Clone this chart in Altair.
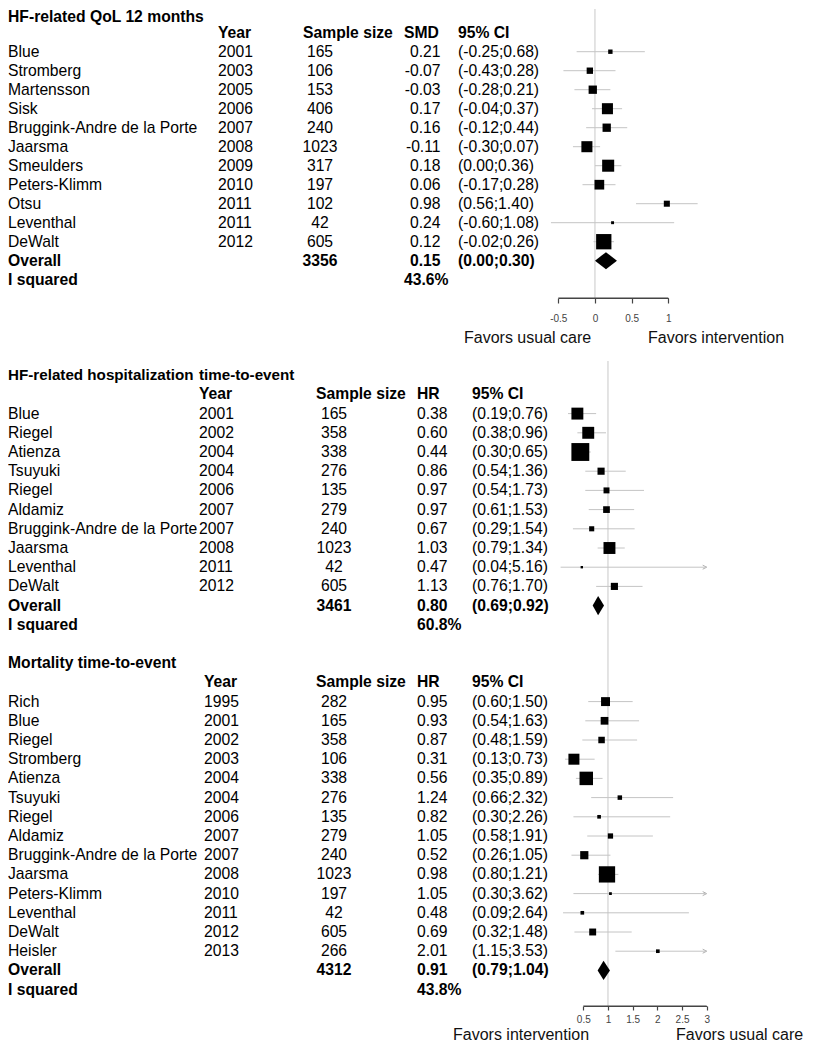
import altair as alt
import pandas as pd

FONT = "Liberation Sans"
FS = 15.7

# ---------------- data ----------------
qol_title = "HF-related QoL 12 months"
qol_est_label = "SMD"
qol_names = ["Blue", "Stromberg", "Martensson", "Sisk", "Bruggink-Andre de la Porte",
             "Jaarsma", "Smeulders", "Peters-Klimm", "Otsu", "Leventhal", "DeWalt"]
qol_years = [2001, 2003, 2005, 2006, 2007, 2008, 2009, 2010, 2011, 2011, 2012]
qol_n = [165, 106, 153, 406, 240, 1023, 317, 197, 102, 42, 605]
qol_est = [0.21, -0.07, -0.03, 0.17, 0.16, -0.11, 0.18, 0.06, 0.98, 0.24, 0.12]
qol_lo = [-0.25, -0.43, -0.28, -0.04, -0.12, -0.30, 0.00, -0.17, 0.56, -0.60, -0.02]
qol_hi = [0.68, 0.28, 0.21, 0.37, 0.44, 0.07, 0.36, 0.28, 1.40, 1.08, 0.26]
qol_weight = [2.0, 4.2, 7.2, 12.7, 7.2, 12.7, 15.1, 9.8, 3.8, 0.9, 24.4]
qol_overall_n = 3356
qol_overall = [0.15, 0.00, 0.30]
qol_i2 = "43.6%"
qol_ticks = [-0.5, 0, 0.5, 1]
qol_ref = [0]
qol_favors = ["Favors usual care", "Favors intervention"]

hosp_title = ["HF-related hospitalization", "time-to-event"]
hosp_names = ["Blue", "Riegel", "Atienza", "Tsuyuki", "Riegel", "Aldamiz",
              "Bruggink-Andre de la Porte", "Jaarsma", "Leventhal", "DeWalt"]
hosp_years = [2001, 2002, 2004, 2004, 2006, 2007, 2007, 2008, 2011, 2012]
hosp_n = [165, 358, 338, 276, 135, 279, 240, 1023, 42, 605]
hosp_est = [0.38, 0.60, 0.44, 0.86, 0.97, 0.97, 0.67, 1.03, 0.47, 1.13]
hosp_lo = [0.19, 0.38, 0.30, 0.54, 0.54, 0.61, 0.29, 0.79, 0.04, 0.76]
hosp_hi = [0.76, 0.96, 0.65, 1.36, 1.73, 1.53, 1.54, 1.34, 5.16, 1.70]
hosp_weight = [14.8, 14.8, 33.3, 5.3, 3.7, 4.7, 2.7, 14.8, 0.6, 5.3]
hosp_overall_n = 3461
hosp_overall = [0.80, 0.69, 0.92]
hosp_i2 = "60.8%"

mort_title = "Mortality time-to-event"
mort_names = ["Rich", "Blue", "Riegel", "Stromberg", "Atienza", "Tsuyuki", "Riegel",
              "Aldamiz", "Bruggink-Andre de la Porte", "Jaarsma", "Peters-Klimm",
              "Leventhal", "DeWalt", "Heisler"]
mort_years = [1995, 2001, 2002, 2003, 2004, 2004, 2006, 2007, 2007, 2008, 2010, 2011, 2012, 2013]
mort_n = [282, 165, 358, 106, 338, 276, 135, 279, 240, 1023, 197, 42, 605, 266]
mort_est = [0.95, 0.93, 0.87, 0.31, 0.56, 1.24, 0.82, 1.05, 0.52, 0.98, 1.05, 0.48, 0.69, 2.01]
mort_lo = [0.60, 0.54, 0.48, 0.13, 0.35, 0.66, 0.30, 0.58, 0.26, 0.80, 0.30, 0.09, 0.32, 1.15]
mort_hi = [1.50, 1.63, 1.59, 0.73, 0.89, 2.32, 2.26, 1.91, 1.05, 1.21, 3.62, 2.64, 1.48, 3.53]
mort_weight = [8.3, 6.2, 4.4, 12.6, 18.9, 2.1, 1.4, 2.9, 7.0, 27.6, 0.8, 1.4, 5.0, 1.4]
mort_overall_n = 4312
mort_overall = [0.91, 0.79, 1.04]
mort_i2 = "43.8%"

hr_label = "HR"
hr_ticks = [0.5, 1, 1.5, 2, 2.5, 3]
hr_ref = [1]
hr_favors = ["Favors intervention", "Favors usual care"]

# ---------------- layout / style ----------------
W = 797
H1, ROW1, TOP1 = 289, 19.0, 4.7
H2, ROW2, TOP2 = 645, 19.2, 14.2
MORT_ROW0 = 15
CI_COLOR = "#c4c4c4"
REF_COLOR = "#c8c8c8"
AX_COLOR = "#444444"


def yscale(H, ROW, TOP):
    return alt.Scale(domain=[-TOP / ROW, (H - TOP) / ROW], reverse=True, nice=False, zero=False)


def make_axis(ticks, pad, tick_size):
    return alt.Axis(values=ticks, labelExpr="datum.value + ''", title=None, grid=False,
                    tickSize=tick_size, tickColor=AX_COLOR, tickWidth=1.2, domain=True,
                    domainColor=AX_COLOR, domainWidth=1.2, labelFont=FONT, labelFontSize=10,
                    labelColor="#444444", labelPadding=pad, labelFlush=False,
                    labelOverlap=False, orient="bottom")


def study_table(names, years, n, est, lo, hi, w, row0):
    return pd.DataFrame({
        "row": [row0 + 2 + i for i in range(len(names))],
        "name": names,
        "year": [str(y) for y in years],
        "n": [str(v) for v in n],
        "est_txt": [f"{v:.2f}" for v in est],
        "ci_txt": [f"({a:.2f};{b:.2f})" for a, b in zip(lo, hi)],
        "est": est, "lo": lo, "hi": hi, "w": w,
    })


def overall_table(n, ov, row):
    return pd.DataFrame({"row": [row], "n": [str(n)], "est_txt": [f"{ov[0]:.2f}"],
                         "ci_txt": [f"({ov[1]:.2f};{ov[2]:.2f})"],
                         "est": [ov[0]], "lo": [ov[1]], "hi": [ov[2]]})


def txt(df, field, x, ys, align="left", bold=False, dy=0, size=FS, baseline="middle"):
    return alt.Chart(df).mark_text(align=align, baseline=baseline, font=FONT, fontSize=size,
                                   fontWeight="bold" if bold else "normal", color="black",
                                   dy=dy).encode(x=alt.value(x),
                                                 y=alt.Y("row:Q", scale=ys, axis=None),
                                                 text=f"{field}:N")


def label(text, row, x, ys, align="left", bold=True, dy=0, size=FS, baseline="middle"):
    return txt(pd.DataFrame({"row": [row], "t": [text]}), "t", x, ys, align, bold, dy, size,
               baseline)


def table_layers(title_parts, est_label, st, ov, orow, i2, row0, cols, ys, est_align,
                 title_dy=0, title_size=FS, title_baseline="middle"):
    L = []
    for part, x in zip(title_parts, [cols["name"], cols["title2"]]):
        L.append(label(part, row0, x, ys, dy=title_dy, size=title_size,
                       baseline=title_baseline))
    L.append(label("Year", row0 + 1, cols["year"], ys))
    L.append(label("Sample size", row0 + 1, cols["nh"], ys))
    L.append(label(est_label, row0 + 1, cols["eh"], ys))
    L.append(label("95% CI", row0 + 1, cols["ci"], ys))
    L.append(txt(st, "name", cols["name"], ys))
    L.append(txt(st, "year", cols["year"], ys))
    L.append(txt(st, "n", cols["n"], ys, "center"))
    L.append(txt(st, "est_txt", cols["e"], ys, est_align))
    L.append(txt(st, "ci_txt", cols["ci"], ys))
    L.append(label("Overall", orow, cols["name"], ys))
    L.append(txt(ov, "n", cols["n"], ys, "center", True))
    L.append(txt(ov, "est_txt", cols["e"], ys, est_align, True))
    L.append(txt(ov, "ci_txt", cols["ci"], ys, "left", True))
    L.append(label("I squared", orow + 1, cols["name"], ys))
    L.append(label(i2, orow + 1, cols["eh"], ys))
    return L


def forest_layers(st, diam, ref, ticks, xscale, axis, ys, size_range, H, clip_hi):
    X = lambda f: alt.X(f"{f}:Q", scale=xscale, axis=axis)
    Y = alt.Y("row:Q", scale=ys, axis=None)
    L = []
    L.append(alt.Chart(pd.DataFrame({"ref": ref})).mark_rule(color=REF_COLOR, strokeWidth=1)
             .encode(x=X("ref")))
    # axis base line between the first and last tick
    L.append(alt.Chart(pd.DataFrame({"a": [ticks[0]], "b": [ticks[-1]]}))
             .mark_rule(color=AX_COLOR, strokeWidth=1.2)
             .encode(x=X("a"), x2="b:Q", y=alt.value(H)))
    if clip_hi:
        base = alt.Chart(st).transform_calculate(hi_c=f"min(datum.hi, {ticks[-1]})")
        L.append(base.transform_filter(f"datum.hi > {ticks[-1]}")
                 .mark_point(shape="M-2,-1L0,0L-2,1", filled=False, color="#b0b0b0",
                             strokeWidth=1, size=16, opacity=1)
                 .encode(x=X("hi_c"), y=Y))
    else:
        base = alt.Chart(st).transform_calculate(hi_c="datum.hi")
    L.append(base.mark_rule(color=CI_COLOR, strokeWidth=1)
             .encode(x=X("lo"), x2="hi_c:Q", y=Y))
    L.append(base.mark_square(color="black", opacity=1, strokeWidth=0)
             .encode(x=X("est"), y=Y,
                     size=alt.Size("w:Q", scale=alt.Scale(domain=[0, 100], range=size_range),
                                   legend=None)))
    L.append(alt.Chart(diam).mark_area(color="black", opacity=1)
             .encode(x=X("x"), y=alt.Y("y1:Q", scale=ys, axis=None, stack=None),
                     y2="y2:Q", detail="g:N"))
    return L


def diamond_rows(ov, row, half, g):
    return [dict(g=g, x=ov[1], y1=row, y2=row),
            dict(g=g, x=ov[0], y1=row - half, y2=row + half),
            dict(g=g, x=ov[2], y1=row, y2=row)]


def favors(texts, xs, ypx, baseline="middle"):
    return [alt.Chart(pd.DataFrame({"t": [t]})).mark_text(
        align="left", baseline=baseline, font=FONT, fontSize=16, color="#111111")
        .encode(x=alt.value(x), y=alt.value(ypx), text="t:N") for t, x in zip(texts, xs)]


# ---------------- section 1 ----------------
ys1 = yscale(H1, ROW1, TOP1)
st1 = study_table(qol_names, qol_years, qol_n, qol_est, qol_lo, qol_hi, qol_weight, 0)
orow1 = 2 + len(qol_names)
ov1 = overall_table(qol_overall_n, qol_overall, orow1)
cols1 = dict(name=0, title2=210, year=210, nh=295, n=312, eh=396, e=432.5, ci=450)
x1 = alt.Scale(domain=[qol_ticks[0], qol_ticks[-1]], range=[550.3, 660.3], nice=False, zero=False)
layers1 = forest_layers(st1, pd.DataFrame(diamond_rows(qol_overall, orow1, 0.45, "a")), qol_ref,
                        qol_ticks, x1, make_axis(qol_ticks, 10, 5), ys1, [0, 960], H1, False)
layers1 += table_layers([qol_title], qol_est_label, st1, ov1, orow1, qol_i2, 0, cols1, ys1,
                        "right", title_dy=8.4, title_baseline="alphabetic")
layers1 += favors(qol_favors, [456, 640], H1 + 40)
sec1 = alt.layer(*layers1).properties(width=W, height=H1)

# ---------------- sections 2 + 3 ----------------
ys2 = yscale(H2, ROW2, TOP2)
st2 = study_table(hosp_names, hosp_years, hosp_n, hosp_est, hosp_lo, hosp_hi, hosp_weight, 0)
orow2 = 2 + len(hosp_names)
ov2 = overall_table(hosp_overall_n, hosp_overall, orow2)
st3 = study_table(mort_names, mort_years, mort_n, mort_est, mort_lo, mort_hi, mort_weight, MORT_ROW0)
orow3 = MORT_ROW0 + 2 + len(mort_names)
ov3 = overall_table(mort_overall_n, mort_overall, orow3)
cols2 = dict(name=0, title2=191, year=191, nh=308, n=326, eh=409, e=409, ci=464)
cols3 = dict(name=0, title2=196, year=196, nh=308, n=326, eh=409, e=409, ci=464)
x2 = alt.Scale(domain=[hr_ticks[0], hr_ticks[-1]], range=[575.3, 698.7], nice=False, zero=False)
diam23 = pd.DataFrame(diamond_rows(hosp_overall, orow2, 0.5, "h") +
                      diamond_rows(mort_overall, orow3, 0.5, "m"))
layers23 = forest_layers(pd.concat([st2, st3], ignore_index=True), diam23, hr_ref, hr_ticks, x2,
                         make_axis(hr_ticks, 4, 4), ys2, [0, 676], H2, True)
layers23 += table_layers(hosp_title, hr_label, st2, ov2, orow2, hosp_i2, 0, cols2, ys2, "left",
                         title_size=15.2)
layers23 += table_layers([mort_title], hr_label, st3, ov3, orow3, mort_i2, MORT_ROW0, cols3, ys2, "left")
layers23 += favors(hr_favors, [445, 668], H2 + 34, baseline="alphabetic")
sec23 = alt.layer(*layers23).properties(width=W, height=H2)

chart = (alt.vconcat(sec1, sec23, spacing=63, bounds="flush")
         .properties(padding=0)
         .configure_view(stroke=None))

chart.save("out.html", embed_options={"renderer": "svg", "actions": False})
